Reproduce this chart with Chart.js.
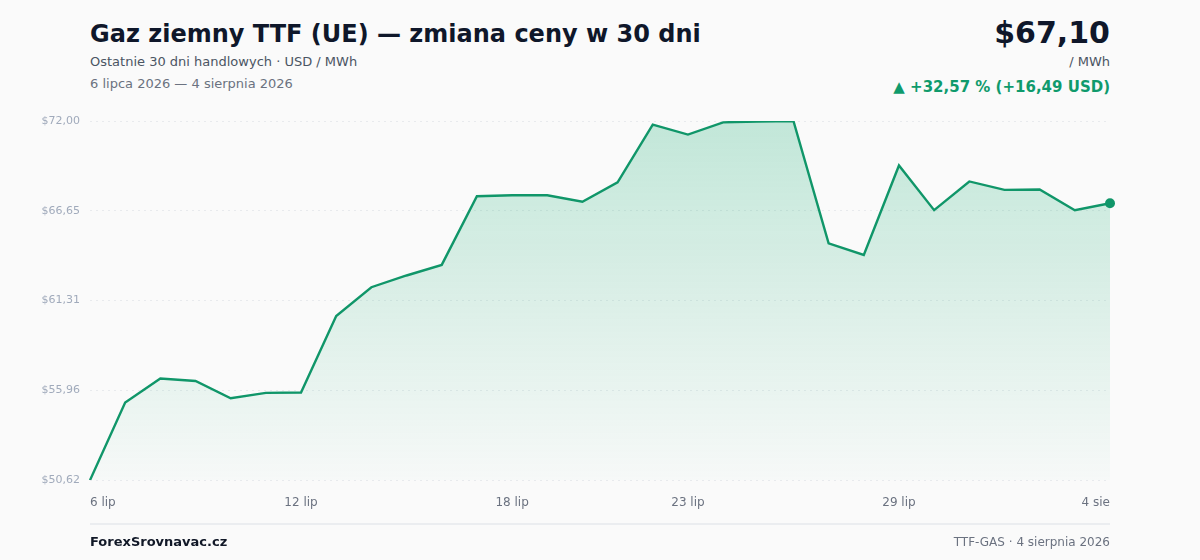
<!DOCTYPE html>
<html>
<head>
<meta charset="utf-8">
<script src="https://cdn.jsdelivr.net/npm/chart.js@4.4.1/dist/chart.umd.min.js"></script>
<style>
  html, body { margin: 0; padding: 0; background: #fafafa; }
  body { width: 1200px; height: 560px; position: relative; overflow: hidden; font-family: "DejaVu Sans", sans-serif; }
  #chart { position: absolute; left: 0; top: 0; }
  .abs { position: absolute; white-space: nowrap; }
  #title { left: 90px; top: 20px; font-size: 24px; font-weight: bold; color: #0f172a; }
  #sub { left: 90px; top: 54px; font-size: 13px; color: #4b5563; }
  #range { left: 90px; top: 76px; font-size: 13px; color: #6b7280; }
  #price { right: 90px; top: 15px; font-size: 30px; font-weight: bold; color: #0f172a; }
  #unit { right: 90px; top: 54px; font-size: 13px; color: #4b5563; }
  #change { right: 90px; top: 78px; font-size: 15px; font-weight: bold; color: #0f9a6c; }
  #rule { left: 90px; top: 523px; width: 1020px; height: 2px; background: #ebedf0; }
  #brand { left: 90px; top: 534px; font-size: 13px; font-weight: bold; color: #111827; }
  #src { right: 90px; top: 535px; font-size: 12px; color: #6b7280; }
</style>
</head>
<body>
<div class="abs" id="title">Gaz ziemny TTF (UE) — zmiana ceny w 30 dni</div>
<div class="abs" id="sub">Ostatnie 30 dni handlowych · USD / MWh</div>
<div class="abs" id="range">6 lipca 2026 — 4 sierpnia 2026</div>
<div class="abs" id="price">$67,10</div>
<div class="abs" id="unit">/ MWh</div>
<div class="abs" id="change">▲ +32,57 % (+16,49 USD)</div>
<canvas id="chart" width="1200" height="560"></canvas>
<div class="abs" id="rule"></div>
<div class="abs" id="brand">ForexSrovnavac.cz</div>
<div class="abs" id="src">TTF-GAS · 4 sierpnia 2026</div>

<script>
// days 6 lip .. 4 sie
const days = [
  '6 lip', '7 lip', '8 lip', '9 lip', '10 lip', '11 lip', '12 lip', '13 lip', '14 lip', '15 lip',
  '16 lip', '17 lip', '18 lip', '19 lip', '20 lip', '21 lip', '22 lip', '23 lip', '24 lip', '25 lip',
  '26 lip', '27 lip', '28 lip', '29 lip', '30 lip', '31 lip', '1 sie', '2 sie', '3 sie', '4 sie'
];
const prices = [
  50.61, 55.23, 56.66, 56.52, 55.49, 55.81, 55.83, 60.38, 62.10, 62.80,
  63.43, 67.52, 67.58, 67.58, 67.19, 68.35, 71.78, 71.19, 71.92, 71.97,
  72.00, 64.71, 64.02, 69.35, 66.69, 68.40, 67.90, 67.92, 66.69, 67.10
];
const shownDays = ['6 lip', '12 lip', '18 lip', '23 lip', '29 lip', '4 sie'];
const yTicks = [50.62, 55.96, 61.31, 66.65, 72.00];

const green = '#109669';

function fmt(v) {
  return '$' + v.toFixed(2).replace('.', ',');
}

const ctx = document.getElementById('chart').getContext('2d');
new Chart(ctx, {
  type: 'line',
  data: {
    labels: days,
    datasets: [{
      data: prices,
      borderColor: green,
      borderWidth: 2.4,
      tension: 0,
      fill: 'start',
      backgroundColor: (c) => {
        const area = c.chart.chartArea;
        if (!area) return 'rgba(16,150,105,0.15)';
        const g = c.chart.ctx.createLinearGradient(0, area.top, 0, area.bottom);
        g.addColorStop(0, 'rgba(16,170,110,0.24)');
        g.addColorStop(1, 'rgba(16,170,110,0.015)');
        return g;
      },
      pointRadius: (c) => c.dataIndex === prices.length - 1 ? 5 : 0,
      pointBackgroundColor: green,
      pointBorderColor: green,
      pointBorderWidth: 0
    }]
  },
  options: {
    responsive: false,
    animation: false,
    layout: { padding: { left: 0, right: 90, top: 121, bottom: 40 } },
    plugins: { legend: { display: false }, tooltip: { enabled: false } },
    scales: {
      x: {
        grid: { display: false },
        border: { display: false },
        afterFit: (s) => { s.height = 40; },
        ticks: {
          autoSkip: false,
          maxRotation: 0,
          align: 'inner',
          padding: 8,
          color: '#6b7280',
          font: { family: 'DejaVu Sans', size: 12 },
          callback: function (v, i) {
            const lab = days[i];
            return shownDays.includes(lab) ? lab : '';
          }
        }
      },
      y: {
        min: yTicks[0],
        max: yTicks[yTicks.length - 1],
        afterFit: (s) => { s.width = 90; },
        afterBuildTicks: (s) => { s.ticks = yTicks.map(v => ({ value: v })); },
        border: { display: false, dash: [2, 4] },
        grid: {
          color: '#e8eaed',
          lineWidth: 1,
          drawTicks: false
        },
        ticks: {
          padding: 10,
          color: '#a0aabb',
          font: { family: 'DejaVu Sans', size: 11 },
          callback: (v) => fmt(v)
        }
      }
    }
  }
});
</script>
</body>
</html>
